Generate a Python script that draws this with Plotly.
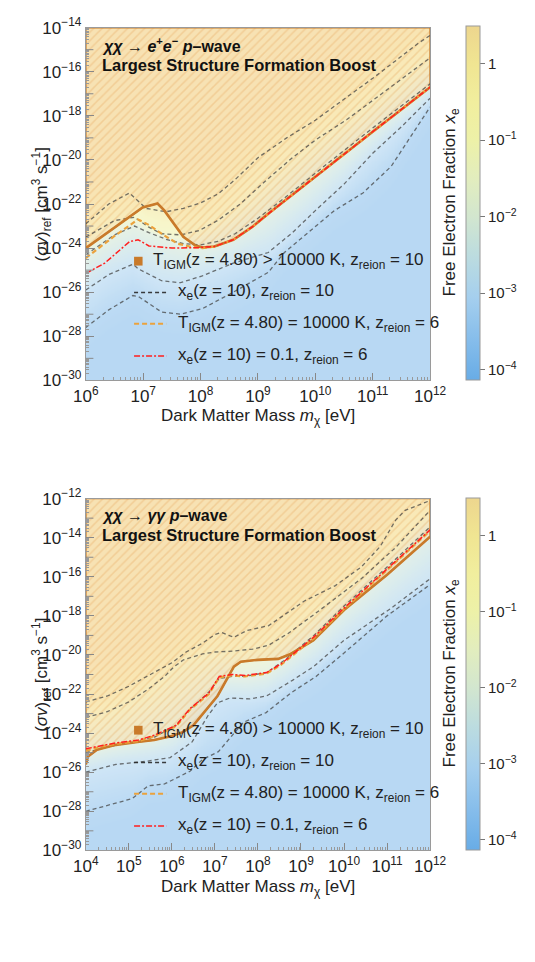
import numpy as np
import plotly.graph_objects as go

W, H = 535, 962

# ================= DATA (log10 m [eV], log10 <sigma v> [cm^3 s^-1]) =================
# ---- Panel 1 : chi chi -> e+ e-  p-wave ----
p1_orange_m = [6.0, 6.5, 6.99, 7.25, 7.37, 7.7, 7.91, 8.03, 8.24, 8.57, 8.9, 9.2, 10.0, 11.0, 12.0]
p1_orange_s = [-24.0, -23.07, -22.16, -21.98, -22.3, -23.49, -23.88, -23.97, -23.93, -23.62, -23.04, -22.4, -20.75, -18.72, -16.7]

p1_odash_m = [6.0, 6.5, 6.91, 7.1, 7.35, 7.6, 7.85, 8.03, 8.24, 8.57, 8.9, 9.2, 10.0, 11.0, 12.0]
p1_odash_s = [-24.45, -23.45, -22.7, -22.95, -23.4, -23.8, -23.95, -24.0, -23.93, -23.62, -23.04, -22.4, -20.75, -18.72, -16.7]

p1_red_m = [6.0, 6.33, 6.76, 6.91, 7.1, 7.5, 7.9, 8.24, 8.57, 8.9, 9.2, 10.0, 11.0, 12.0]
p1_red_s = [-25.15, -24.68, -23.71, -23.62, -23.9, -24.0, -23.98, -23.93, -23.62, -23.04, -22.4, -20.75, -18.72, -16.7]

# x_e(z=10) contours, z_reion = 10 (levels 1, 0.1, 0.01, 1e-3, 2.5e-4)
p1_c1_m = [6.0, 6.4, 6.76, 7.05, 7.4, 7.7, 8.0, 8.3, 8.6, 9.0, 9.5, 10.0, 10.55, 11.0, 11.5, 11.8, 12.0]
p1_c1_s = [-22.9, -22.0, -21.5, -22.2, -22.35, -22.2, -21.95, -21.55, -20.9, -19.9, -19.0, -18.2, -17.15, -16.3, -15.3, -14.7, -14.35]
p1_c2_m = [6.0, 6.5, 6.85, 7.09, 7.32, 7.65, 7.98, 8.31, 8.69, 9.13, 9.6, 10.0, 10.55, 11.0, 11.5, 12.0]
p1_c2_s = [-23.5, -22.75, -22.6, -23.04, -23.35, -23.4, -23.2, -22.73, -22.0, -20.96, -19.9, -19.1, -18.17, -17.3, -16.3, -15.37]
p1_c3_m = [6.0, 6.5, 6.85, 7.1, 7.4, 7.7, 8.0, 8.3, 8.6, 9.0, 9.5, 10.0, 11.0, 12.0]
p1_c3_s = [-24.3, -23.4, -23.0, -23.3, -23.6, -23.8, -23.85, -23.7, -23.35, -22.65, -21.65, -20.6, -18.55, -16.55]
p1_c4_m = [6.0, 6.4, 6.82, 6.92, 7.32, 7.65, 8.03, 8.57, 9.18, 9.6, 10.0, 10.5, 11.0, 11.5, 12.0]
p1_c4_s = [-25.9, -25.2, -24.73, -24.95, -25.48, -25.57, -25.26, -24.68, -24.2, -23.3, -22.3, -21.1, -19.7, -18.5, -17.2]
p1_c5_m = [6.0, 6.4, 6.82, 6.92, 7.32, 7.65, 8.03, 8.57, 9.18, 9.46, 10.33, 10.83, 11.32, 12.0]
p1_c5_s = [-27.6, -26.8, -26.15, -26.2, -26.9, -27.0, -26.75, -26.0, -25.1, -24.2, -22.3, -21.5, -20.3, -17.6]

# ---- Panel 2 : chi chi -> gamma gamma  p-wave ----
p2_orange_m = [4.0, 4.05, 4.26, 4.7, 5.2, 5.59, 6.0, 6.25, 6.5, 6.69, 7.06, 7.44, 7.6, 8.0, 8.47, 8.76, 9.29, 10.0, 11.0, 12.0]
p2_orange_s = [-25.6, -25.2, -24.85, -24.6, -24.45, -24.35, -24.15, -23.95, -23.6, -23.1, -22.1, -20.6, -20.35, -20.25, -20.2, -19.95, -19.25, -17.7, -15.9, -13.95]

p2_odash_m = [4.0, 4.42, 4.7, 5.23, 5.6, 6.1, 6.42, 6.86, 7.1, 7.4, 7.7, 8.2, 8.54, 9.29, 10.0, 11.0, 12.0]
p2_odash_s = [-24.9, -24.65, -24.55, -24.4, -24.15, -23.65, -22.8, -22.0, -21.15, -21.05, -21.1, -20.95, -20.5, -19.15, -17.65, -15.65, -13.65]

p2_red_m = [4.0, 4.42, 4.7, 5.23, 5.6, 6.1, 6.42, 6.86, 7.1, 7.4, 7.7, 8.2, 8.54, 9.29, 10.0, 11.0, 12.0]
p2_red_s = [-24.8, -24.6, -24.5, -24.35, -24.1, -23.6, -22.75, -21.95, -21.1, -21.0, -21.05, -20.9, -20.45, -19.1, -17.6, -15.6, -13.6]

p2_c1_m = [4.0, 4.5, 5.0, 5.5, 6.0, 6.33, 6.71, 7.0, 7.15, 7.44, 7.74, 8.25, 9.07, 9.8, 10.4, 10.84, 11.2, 11.42, 12.0]
p2_c1_s = [-22.4, -22.1, -21.6, -21.0, -20.4, -19.85, -19.4, -18.95, -18.85, -19.1, -18.75, -18.5, -17.25, -16.45, -15.5, -14.45, -13.1, -12.6, -12.1]
p2_c2_m = [4.0, 4.5, 5.0, 5.45, 5.83, 6.05, 6.27, 6.71, 7.0, 7.44, 7.88, 8.25, 8.7, 9.29, 10.4, 11.2, 12.0]
p2_c2_s = [-23.2, -22.9, -22.4, -21.75, -21.1, -20.6, -20.25, -19.95, -19.85, -19.8, -19.7, -19.5, -18.9, -17.95, -16.1, -14.5, -12.6]
p2_c3_m = [4.0, 4.5, 5.0, 5.6, 6.1, 6.42, 6.86, 7.1, 7.4, 7.7, 8.2, 8.6, 9.3, 10.0, 11.0, 12.0]
p2_c3_s = [-25.0, -24.7, -24.5, -24.2, -23.6, -22.8, -21.9, -21.2, -21.1, -21.1, -20.9, -20.3, -19.0, -17.5, -15.5, -13.45]
p2_c4_m = [4.0, 4.7, 5.37, 5.96, 6.47, 6.84, 7.06, 7.35, 7.8, 8.2, 8.8, 9.29, 10.0, 11.1, 12.0]
p2_c4_s = [-26.0, -25.6, -25.45, -25.25, -24.45, -23.1, -22.45, -22.2, -22.25, -22.1, -21.3, -20.6, -19.25, -17.6, -16.1]
p2_c5_m = [4.0, 4.5, 5.08, 5.45, 5.83, 6.42, 6.71, 7.08, 7.66, 8.19, 8.76, 9.35, 10.0, 11.0, 12.0]
p2_c5_s = [-28.0, -27.7, -27.35, -26.7, -26.6, -25.95, -25.35, -24.95, -23.45, -22.95, -21.95, -21.1, -19.9, -18.0, -16.4]

contour_levels = [-3.6, -3.0, -2.0, -1.0, 0.0]     # log10 x_e of c5..c1
bar_lines = [0.0, -1.0, -2.0, -3.0, -3.6]
cbar_ticks = [-4, -3, -2, -1, 0]
cbar_text = ["10<sup>−4</sup>", "10<sup>−3</sup>", "10<sup>−2</sup>", "10<sup>−1</sup>", "1"]

legend_labels = [
    "T<sub>IGM</sub>(z = 4.80) > 10000 K, z<sub>reion</sub> = 10",
    "x<sub>e</sub>(z = 10), z<sub>reion</sub> = 10",
    "T<sub>IGM</sub>(z = 4.80) = 10000 K, z<sub>reion</sub> = 6",
    "x<sub>e</sub>(z = 10) = 0.1, z<sub>reion</sub> = 6",
]

# ================= STYLE =================
FONT = "Liberation Sans, Arial, sans-serif"
ORANGE = "#C97A2A"
ORANGE_D = "#EBA23C"
RED = "#FF1E1E"
GRAY = "rgba(70,70,70,0.75)"
ZMIN, ZMAX = -4.13, 0.5
cstops = [(-4.13, "#68ACE6"), (-3.6, "#86BDEB"), (-3.05, "#A5CFEE"), (-2.5, "#BCDCDF"),
          (-2.0, "#D2E6CF"), (-1.5, "#E2EDBE"), (-1.0, "#EDF1A8"), (-0.5, "#F1EE9E"),
          (0.0, "#F0E592"), (0.5, "#EDD68E")]
cscale = [[(v - ZMIN) / (ZMAX - ZMIN), c] for v, c in cstops]

fig = go.Figure()

def px_x(x):
    return x / W

def px_y(y):
    return 1 - y / H

PX_L, PX_R = 77, 441
CB_L, CB_R = 479, 493

panels = [
    dict(xa="x", ya="y", xr=(6, 12), yr=(-30, -14), top=16, bot=377,
         orange=(p1_orange_m, p1_orange_s), odash=(p1_odash_m, p1_odash_s), red=(p1_red_m, p1_red_s),
         contours=[(p1_c5_m, p1_c5_s), (p1_c4_m, p1_c4_s), (p1_c3_m, p1_c3_s), (p1_c2_m, p1_c2_s), (p1_c1_m, p1_c1_s)],
         legend_y=[255, 287, 319, 352],
         title1="<b><i>χχ</i> → <i>e</i><sup>+</sup><i>e</i><sup>−</sup> <i>p</i>–wave</b>",
         title_y=(34, 54), xtitle_y=414, cb=(18, 372)),
    dict(xa="x2", ya="y2", xr=(4, 12), yr=(-30, -12), top=498, bot=858,
         orange=(p2_orange_m, p2_orange_s), odash=(p2_odash_m, p2_odash_s), red=(p2_red_m, p2_red_s),
         contours=[(p2_c5_m, p2_c5_s), (p2_c4_m, p2_c4_s), (p2_c3_m, p2_c3_s), (p2_c2_m, p2_c2_s), (p2_c1_m, p2_c1_s)],
         legend_y=[735, 768, 800, 833],
         title1="<b><i>χχ</i> → <i>γγ</i> <i>p</i>–wave</b>",
         title_y=(515, 535), xtitle_y=896, cb=(501, 853)),
]

shapes = []
annotations = []
layout_axes = {}

for k, P in enumerate(panels):
    xa, ya = P["xa"], P["ya"]
    # ---- background density of x_e built from the contour curves ----
    xg = np.linspace(P["xr"][0], P["xr"][1], 241)
    yg = np.linspace(P["yr"][0], P["yr"][1], 361)
    Z = np.empty((len(yg), len(xg)))
    for j, xv in enumerate(xg):
        pos = np.array([np.interp(xv, cm, cs) for cm, cs in P["contours"]])
        pos = np.maximum.accumulate(pos + np.arange(len(pos)) * 1e-4)
        xp = np.concatenate([[pos[0] - 1.2], pos, [pos[-1] + 2.0]])
        fp = np.concatenate([[-3.75], contour_levels, [0.45]])
        Z[:, j] = np.interp(yg, xp, fp)
    fig.add_trace(go.Heatmap(x=xg, y=yg, z=Z, zmin=ZMIN, zmax=ZMAX, colorscale=cscale,
                             showscale=False, opacity=0.55, hoverinfo="skip",
                             xaxis=xa, yaxis=ya))
    # colorbar (full colour)
    cb_top, cb_bot = P["cb"]
    fig.add_trace(go.Scatter(x=[xg[0]], y=[yg[0]], mode="markers", xaxis=xa, yaxis=ya,
                             marker=dict(size=1, opacity=0, color=[ZMIN], cmin=ZMIN, cmax=ZMAX,
                                         colorscale=cscale, showscale=True,
                                         colorbar=dict(x=px_x(CB_L), xanchor="left",
                                                       y=px_y((cb_top + cb_bot) / 2), yanchor="middle",
                                                       len=cb_bot - cb_top, lenmode="pixels",
                                                       thickness=CB_R - CB_L, outlinewidth=1, outlinecolor="#9a9a9a",
                                                       tickvals=cbar_ticks, ticktext=cbar_text,
                                                       ticks="outside", ticklen=5, tickcolor="#777",
                                                       tickfont=dict(family=FONT, size=15, color="#222"),
                                                       xpad=0, ypad=0)),
                             showlegend=False, hoverinfo="skip"))
    def cb_y(v):
        return cb_bot - (v - ZMIN) / (ZMAX - ZMIN) * (cb_bot - cb_top)
    for lv in bar_lines:
        yy = cb_y(lv)
        shapes.append(dict(type="line", xref="paper", yref="paper", x0=px_x(CB_L), x1=px_x(CB_R),
                           y0=px_y(yy), y1=px_y(yy), line=dict(color="#666", width=1.5)))
    for n in range(-5, 1):
        for m in range(2, 10):
            v = n + np.log10(m)
            if ZMIN < v < ZMAX:
                yy = cb_y(v)
                shapes.append(dict(type="line", xref="paper", yref="paper", x0=px_x(CB_R - 4), x1=px_x(CB_R),
                                   y0=px_y(yy), y1=px_y(yy), line=dict(color="#888", width=1)))

    # ---- excluded (hatched) region ----
    om, os_ = P["orange"]
    hx = list(om) + [P["xr"][1], P["xr"][0], om[0]]
    hy = list(os_) + [P["yr"][1], P["yr"][1], os_[0]]
    fig.add_trace(go.Scatter(x=hx, y=hy, mode="lines", fill="toself", xaxis=xa, yaxis=ya,
                             line=dict(color=ORANGE, width=1.5),
                             fillcolor="rgba(250,215,150,0.35)",
                             fillpattern=dict(shape="/", size=6, solidity=0.25,
                                              fgcolor="rgba(226,150,70,0.55)",
                                              bgcolor="rgba(250,212,150,0.35)"),
                             showlegend=False, hoverinfo="skip"))
    # ---- contour lines ----
    for cm, cs in P["contours"]:
        fig.add_trace(go.Scatter(x=cm, y=cs, mode="lines", xaxis=xa, yaxis=ya,
                                 line=dict(color=GRAY, width=1.3, dash="4px,3px"),
                                 showlegend=False, hoverinfo="skip"))
    fig.add_trace(go.Scatter(x=P["orange"][0], y=P["orange"][1], mode="lines", xaxis=xa, yaxis=ya,
                             line=dict(color=ORANGE, width=2.6), showlegend=False, hoverinfo="skip"))
    fig.add_trace(go.Scatter(x=P["odash"][0], y=P["odash"][1], mode="lines", xaxis=xa, yaxis=ya,
                             line=dict(color=ORANGE_D, width=2.2, dash="5px,3px"),
                             showlegend=False, hoverinfo="skip"))
    fig.add_trace(go.Scatter(x=P["red"][0], y=P["red"][1], mode="lines", xaxis=xa, yaxis=ya,
                             line=dict(color=RED, width=1.5, dash="6px,2px,2px,2px"),
                             showlegend=False, hoverinfo="skip"))

    # ---- axes ----
    x0, x1 = P["xr"]
    y0, y1 = P["yr"]
    xt = list(range(x0, x1 + 1))
    yt = [v for v in range(y0, y1 + 1) if v % 2 == 0]
    yodd = [v for v in range(y0, y1 + 1) if v % 2 != 0]
    xminor = [n + np.log10(m) for n in range(x0, x1) for m in range(2, 10)]
    yminor = [n + np.log10(m) for n in range(y0, y1) for m in range(2, 10)]
    ytext = ["10<sup>−%d</sup>" % (-v) for v in yt]
    xtext = ["10<sup>%d</sup>" % v for v in xt]
    dom_x = [px_x(PX_L), px_x(PX_R)]
    dom_y = [px_y(P["bot"]), px_y(P["top"])]
    suffix = "" if k == 0 else "2"
    layout_axes["xaxis" + suffix] = dict(domain=dom_x, range=[x0, x1], anchor="y" + suffix,
                                         tickvals=xt, ticktext=xtext, ticks="inside", ticklen=7,
                                         tickcolor="#888", showgrid=False, zeroline=False,
                                         showline=True, linecolor="#9a9a9a", mirror=True,
                                         tickfont=dict(family=FONT, size=17, color="#222"),
                                         minor=dict(tickvals=xminor, ticks="inside", ticklen=3, tickcolor="#999"))
    layout_axes["yaxis" + suffix] = dict(domain=dom_y, range=[y0, y1], anchor="x" + suffix,
                                         tickvals=yt, ticktext=ytext, ticks="inside", ticklen=8,
                                         tickcolor="#888", showgrid=False, zeroline=False,
                                         showline=True, linecolor="#9a9a9a", mirror=True,
                                         tickfont=dict(family=FONT, size=17, color="#222"),
                                         minor=dict(tickvals=yminor, ticks="inside", ticklen=3, tickcolor="#999"))
    for v in yodd:
        shapes.append(dict(type="line", xref=xa + " domain", yref=ya, x0=0, x1=8 / (PX_R - PX_L),
                           y0=v, y1=v, line=dict(color="#888", width=1)))

    # ---- titles / labels ----
    annotations.append(dict(text=P["title1"], x=px_x(92), y=px_y(P["title_y"][0]), xref="paper", yref="paper",
                            xanchor="left", yanchor="middle", showarrow=False,
                            font=dict(family=FONT, size=16, color="#111")))
    annotations.append(dict(text="<b>Largest Structure Formation Boost</b>", x=px_x(92), y=px_y(P["title_y"][1]),
                            xref="paper", yref="paper", xanchor="left", yanchor="middle", showarrow=False,
                            font=dict(family=FONT, size=16.5, color="#111")))
    annotations.append(dict(text="(<i>σv</i>)<sub>ref</sub> [cm<sup>3</sup> s<sup>−1</sup>]",
                            x=px_x(30), y=px_y((P["top"] + P["bot"]) / 2), xref="paper", yref="paper",
                            textangle=-90, showarrow=False, xanchor="center", yanchor="middle",
                            font=dict(family=FONT, size=17, color="#222")))
    annotations.append(dict(text="Dark Matter Mass <i>m</i><sub>χ</sub> [eV]",
                            x=px_x(259), y=px_y(P["xtitle_y"]), xref="paper", yref="paper",
                            showarrow=False, xanchor="center", yanchor="middle",
                            font=dict(family=FONT, size=17, color="#222")))
    annotations.append(dict(text="Free Electron Fraction <i>x</i><sub>e</sub>",
                            x=px_x(463), y=px_y((cb_top + cb_bot) / 2), xref="paper", yref="paper",
                            textangle=-90, showarrow=False, xanchor="center", yanchor="middle",
                            font=dict(family=FONT, size=17, color="#222")))

    # ---- legend (drawn manually, inside the plot) ----
    ly = P["legend_y"]
    shapes.append(dict(type="rect", xref="paper", yref="paper", x0=px_x(128), x1=px_x(137),
                       y0=px_y(ly[0] + 4.5), y1=px_y(ly[0] - 4.5), fillcolor=ORANGE, line=dict(width=0)))
    styles = [dict(color="rgba(40,40,40,0.9)", width=1.4, dash="4px,3px"),
              dict(color=ORANGE_D, width=2.0, dash="5px,3px"),
              dict(color=RED, width=1.5, dash="6px,2px,2px,2px")]
    for r in range(1, 4):
        shapes.append(dict(type="line", xref="paper", yref="paper", x0=px_x(128), x1=px_x(162),
                           y0=px_y(ly[r]), y1=px_y(ly[r]), line=styles[r - 1]))
    for r in range(4):
        annotations.append(dict(text=legend_labels[r], x=px_x(146 if r == 0 else 172), y=px_y(ly[r]),
                                xref="paper", yref="paper", xanchor="left", yanchor="middle",
                                showarrow=False, font=dict(family=FONT, size=17, color="#222")))

fig.update_layout(width=W, height=H, margin=dict(l=0, r=0, t=0, b=0), autosize=False,
                  paper_bgcolor="white", plot_bgcolor="white", showlegend=False,
                  shapes=shapes, annotations=annotations, **layout_axes)
fig.write_html("out.html")
